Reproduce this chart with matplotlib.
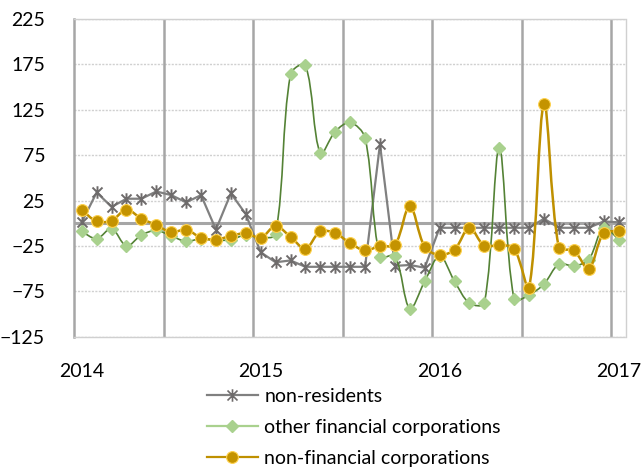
import numpy as np
import matplotlib
matplotlib.use("Agg")
import matplotlib.pyplot as plt
from matplotlib.path import Path
from matplotlib.patches import PathPatch
from matplotlib.lines import Line2D

plt.rcParams['font.family'] = ['Lato', 'DejaVu Sans']

# Monthly data Jan 2014 .. Jan 2017 (37 points)
year_labels = ["2014", "2015", "2016", "2017"]
non_residents = [1, 34, 18, 27, 27, 35, 31, 23, 31, -7, 33, 10,
                 -32, -43, -41, -48, -48, -48, -48, -48, 87, -47, -46, -49,
                 -5, -5, -5, -5, -5, -5, -5, 5, -5, -5, -5, 2, 1]
other_fin = [-9, -17, -6, -25, -13, -8, -14, -20, -17, -19, -18, -13,
             -16, -12, 164, 174, 77, 101, 111, 94, -37, -36, -94, -64,
             -36, -64, -88, -88, 83, -84, -79, -67, -45, -47, -40, -5, -18]
non_fin = [15, 2, 3, 15, 5, -2, -10, -7, -16, -18, -14, -11,
           -16, -3, -15, -28, -9, -11, -22, -30, -25, -24, 19, -26,
           -35, -29, -5, -25, -24, -28, -71, 131, -27, -30, -50, -11, -9]
series_names = ["non-residents", "other financial corporations", "non-financial corporations"]

W, H = 643, 468
fig = plt.figure(figsize=(W / 100, H / 100), dpi=100)
ax = fig.add_axes([74.3 / W, 1 - 336.7 / H, (626 - 74.3) / W, (336.7 - 19) / H])

n = len(non_residents)
x = np.arange(n)

gray_line = "#808080"
gray_mark = "#6E6B6B"
green_line = "#548235"
green_mark = "#A9D18E"
gold_line = "#BF9000"
gold_mark = "#C49300"
gold_edge = "#FFD24D"
grid_gray = "#A6A6A6"

# pixel scale of the axes (for chord-length smoothing, as in spreadsheet "smoothed line")
SX, SY = 14.9, 0.9077


def smooth_path(xs, ys):
    pts = np.column_stack([xs, ys]).astype(float)
    m = len(pts)
    scr = pts * np.array([SX, SY])
    L = np.hypot(*(np.diff(scr, axis=0).T))
    verts = [pts[0]]
    codes = [Path.MOVETO]
    for i in range(m - 1):
        p1, p2 = pts[i], pts[i + 1]
        t1 = (pts[i + 1] - pts[i - 1]) if i > 0 else (p2 - p1)
        t2 = (pts[i + 2] - pts[i]) if i + 2 < m else (p2 - p1)
        a = L[i] / (L[i - 1] + L[i]) if i > 0 else 0.5
        b = L[i] / (L[i] + L[i + 1]) if i + 1 < m - 1 else 0.5
        c1 = p1 + t1 * a / 3.0
        c2 = p2 - t2 * b / 3.0
        verts += [c1, c2, p2]
        codes += [Path.CURVE4] * 3
    return Path(verts, codes)


# gridlines
for v in [225, 175, 125, 75, 25, -25, -75, -125]:
    ax.axhline(v, color="#D0D0D0", lw=1.0, ls=(0, (1.5, 1.0)), zorder=0.5)
for k in range(1, 7):
    ax.axvline(-0.5 + 6 * k, color=grid_gray, lw=1.8, zorder=0.6)
ax.axhline(0, color=grid_gray, lw=2.2, zorder=0.7)

# non-residents: straight line, asterisk markers
star = Path([(-1, -1), (1, 1), (-1, 1), (1, -1), (0, -1.25), (0, 1.25)],
            [Path.MOVETO, Path.LINETO, Path.MOVETO, Path.LINETO, Path.MOVETO, Path.LINETO])
ax.plot(x, non_residents, color=gray_line, lw=1.6, zorder=2)
ax.plot(x, non_residents, ls="none", marker=star, ms=9, mec=gray_mark, mew=1.4, zorder=2.1)

# other financial corporations: smoothed line, diamond markers
ax.add_patch(PathPatch(smooth_path(x, other_fin), fill=False, ec=green_line, lw=1.2, zorder=3))
ax.plot(x, other_fin, ls="none", marker="D", ms=6.5, mfc=green_mark, mec=green_mark, zorder=3.1)

# non-financial corporations: smoothed line, circle markers
ax.add_patch(PathPatch(smooth_path(x, non_fin), fill=False, ec=gold_line, lw=1.8, zorder=4))
ax.plot(x, non_fin, ls="none", marker="o", ms=8.5, mfc=gold_mark, mec=gold_edge, mew=0.8, zorder=4.1)

ax.set_xlim(-0.5, n - 0.5)
ax.set_ylim(-125, 225)
ax.set_yticks(np.arange(-125, 226, 50))
ax.set_xticks([0, 12, 24, 36])
ax.set_xticklabels(year_labels)
ax.tick_params(axis="both", length=0, labelsize=14, colors="black")
ax.tick_params(axis="y", pad=21)
ax.tick_params(axis="x", pad=19)

for s in ["top", "right", "bottom"]:
    ax.spines[s].set_color("#D0D0D0")
    ax.spines[s].set_linestyle((0, (1.5, 1.0)))
    ax.spines[s].set_linewidth(1.0)
ax.spines["left"].set_color(grid_gray)
ax.spines["left"].set_linewidth(1.8)

handles = [
    Line2D([], [], color=gray_line, lw=1.6, marker=star, ms=9, mec=gray_mark, mew=1.2),
    Line2D([], [], color=green_mark, lw=1.6, marker="D", ms=6.5, mfc=green_mark, mec=green_mark),
    Line2D([], [], color=gold_line, lw=1.6, marker="o", ms=8.5, mfc=gold_mark, mec=gold_edge, mew=0.8),
]
fig.legend(handles, series_names, loc="upper left",
           bbox_to_anchor=(207 / W, 1 - 388 / H), frameon=False, fontsize=14,
           borderpad=0, borderaxespad=0, handlelength=2.6, handletextpad=0.35,
           labelspacing=0.72)

fig.savefig("out.png", dpi=100)
